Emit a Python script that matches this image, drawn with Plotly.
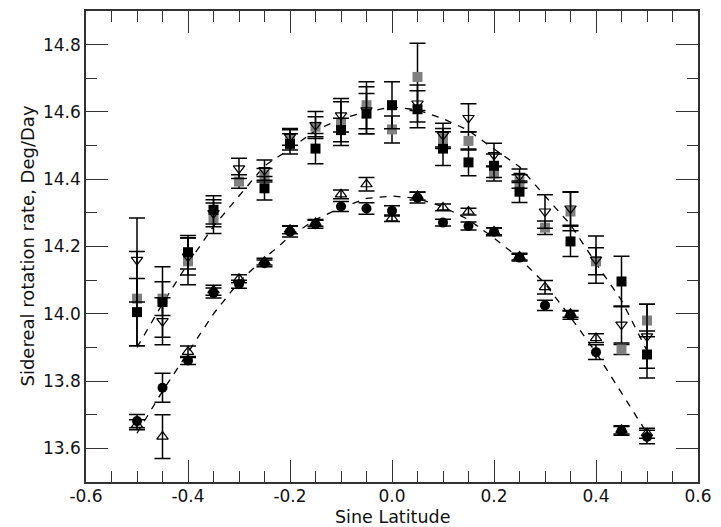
import plotly.graph_objects as go

sine_lat = [-0.5, -0.45, -0.4, -0.35, -0.3, -0.25, -0.2, -0.15, -0.1, -0.05, 0.0,
            0.05, 0.1, 0.15, 0.2, 0.25, 0.3, 0.35, 0.4, 0.45, 0.5]

black_sq = [14.005, 14.035, 14.183, 14.309, None, 14.373, 14.505, 14.491, 14.546, 14.595, 14.620,
            14.608, 14.491, 14.450, 14.440, 14.363, None, 14.215, None, 14.096, 13.879]
black_sq_err = [0.10, 0.105, 0.05, 0.042, 0, 0.035, 0.03, 0.045, 0.035, 0.06, 0.07,
                0.055, 0.05, 0.04, 0.035, 0.032, 0, 0.045, 0, 0.075, 0.07]

gray_sq = [14.045, 14.045, 14.156, 14.284, 14.393, 14.412, 14.517, 14.556, 14.565, 14.620, 14.548,
           14.704, 14.521, 14.514, 14.417, 14.393, 14.256, 14.304, 14.156, 13.894, 13.980]
gray_sq_err = [0.14, 0.05, 0.07, 0.045, 0.02, 0.02, 0.03, 0.03, 0.065, 0.07, 0.04,
               0.10, 0.03, 0.027, 0.022, 0.02, 0.02, 0.057, 0.04, 0.015, 0.048]

tri_down = [14.160, 13.978, 14.170, 14.299, 14.432, 14.427, 14.526, 14.561, 14.590, 14.605, None,
            14.625, 14.531, 14.582, 14.472, 14.410, 14.304, 14.313, 14.161, 13.968, 13.933]
tri_down_err = [0.125, 0.07, 0.055, 0.04, 0.03, 0.03, 0.025, 0.04, 0.05, 0.07, 0,
                0.055, 0.035, 0.042, 0.035, 0.02, 0.05, 0.05, 0.07, 0.055, 0.095]

tri_up = [13.670, 13.635, 13.887, 14.070, 14.104, 14.155, 14.250, 14.270, 14.355, 14.385, 14.284,
          14.350, 14.316, 14.304, 14.245, 14.170, 14.079, 14.000, 13.928, 13.655, 13.645]
tri_up_err = [0.015, 0.065, 0.017, 0.015, 0.012, 0.01, 0.012, 0.01, 0.013, 0.02, 0.01,
              0.012, 0.01, 0.01, 0.01, 0.01, 0.02, 0.01, 0.013, 0.012, 0.015]

circles = [13.681, 13.780, 13.861, 14.062, 14.088, 14.150, 14.244, 14.266, 14.319, 14.313, 14.306,
           14.345, 14.271, 14.261, 14.244, 14.167, 14.025, 13.996, 13.886, 13.652, 13.634]
circles_err = [0.02, 0.043, 0.012, 0.015, 0.012, 0.01, 0.016, 0.012, 0.015, 0.017, 0.015,
               0.016, 0.01, 0.012, 0.012, 0.01, 0.015, 0.012, 0.022, 0.013, 0.02]

fit_upper = [13.90, 14.03, 14.15, 14.26, 14.35, 14.44, 14.49, 14.545, 14.58, 14.60, 14.615,
             14.606, 14.58, 14.545, 14.49, 14.437, 14.35, 14.265, 14.15, 14.04, 13.89]
fit_lower = [13.645, 13.77, 13.885, 14.00, 14.095, 14.165, 14.23, 14.28, 14.315, 14.343, 14.35,
             14.343, 14.318, 14.28, 14.225, 14.165, 14.09, 13.99, 13.885, 13.765, 13.645]

x_tickvals = [-0.6, -0.4, -0.2, 0.0, 0.2, 0.4, 0.6]
x_ticktext = ["-0.6", "-0.4", "-0.2", "0.0", "0.2", "0.4", "0.6"]
y_tickvals = [13.6, 13.8, 14.0, 14.2, 14.4, 14.6, 14.8]
y_ticktext = ["13.6", "13.8", "14.0", "14.2", "14.4", "14.6", "14.8"]

x_title = "Sine Latitude"
y_title = "Sidereal rotation rate, Deg/Day"

FONT = "DejaVu Sans"
TXT = "#111111"

fig = go.Figure()

for fit in (fit_upper, fit_lower):
    fig.add_trace(go.Scatter(x=sine_lat, y=fit, mode="lines",
                             line=dict(color="black", width=1.3, dash="7px,7px"),
                             showlegend=False, hoverinfo="skip"))

def err(arr):
    return dict(type="data", array=arr, visible=True, color="black", thickness=1.5, width=8)

fig.add_trace(go.Scatter(x=sine_lat, y=gray_sq, mode="markers", error_y=err(gray_sq_err),
                         marker=dict(symbol="square", size=10, color="#808080", line=dict(width=0)),
                         showlegend=False))
fig.add_trace(go.Scatter(x=sine_lat, y=black_sq, mode="markers", error_y=err(black_sq_err),
                         marker=dict(symbol="square", size=10, color="black", line=dict(width=0)),
                         showlegend=False))
fig.add_trace(go.Scatter(x=sine_lat, y=tri_down, mode="markers", error_y=err(tri_down_err),
                         marker=dict(symbol="triangle-down-open", size=10, color="black",
                                     line=dict(width=1.2, color="black")),
                         showlegend=False))
fig.add_trace(go.Scatter(x=sine_lat, y=tri_up, mode="markers", error_y=err(tri_up_err),
                         marker=dict(symbol="triangle-up-open", size=10, color="black",
                                     line=dict(width=1.2, color="black")),
                         showlegend=False))
fig.add_trace(go.Scatter(x=sine_lat, y=circles, mode="markers", error_y=err(circles_err),
                         marker=dict(symbol="circle", size=10, color="black", line=dict(width=0)),
                         showlegend=False))

axis_common = dict(
    showline=True, linecolor="#333333", linewidth=1.5, mirror="ticks",
    ticks="inside", ticklen=22, tickwidth=1.3, tickcolor="#333333",
    showgrid=False, zeroline=False, ticklabeloverflow="allow",
    tickfont=dict(family=FONT, size=17, color=TXT),
)

fig.update_xaxes(range=[-0.6, 0.6], tickmode="array", tickvals=x_tickvals, ticktext=x_ticktext,
                 ticklabelstandoff=-2,
                 minor=dict(ticks="inside", ticklen=11, dtick=0.05, tick0=-0.6, tickwidth=1.3,
                            tickcolor="#333333", showgrid=False),
                 **axis_common)
fig.update_yaxes(range=[13.5, 14.9], tickmode="array", tickvals=y_tickvals, ticktext=y_ticktext,
                 minor=dict(ticks="inside", ticklen=11, dtick=0.1, tick0=13.5, tickwidth=1.3,
                            tickcolor="#333333", showgrid=False),
                 **axis_common)

fig.add_annotation(text=x_title, xref="paper", yref="paper", x=0.5, y=0,
                   xanchor="center", yanchor="middle", yshift=-35, showarrow=False,
                   font=dict(family=FONT, size=17.5, color=TXT))
fig.add_annotation(text=y_title, xref="paper", yref="paper", x=0, y=0.5, xshift=-59,
                   xanchor="center", yanchor="middle", textangle=-90, showarrow=False,
                   font=dict(family=FONT, size=18, color=TXT))

fig.update_layout(
    width=721, height=527,
    margin=dict(l=86, r=14, t=9, b=45),
    paper_bgcolor="white", plot_bgcolor="white",
    font=dict(family=FONT),
    showlegend=False,
)

fig.write_html("out.html", config={"displayModeBar": False},
               post_script="document.body.style.margin='0';document.body.style.overflow='hidden';")
